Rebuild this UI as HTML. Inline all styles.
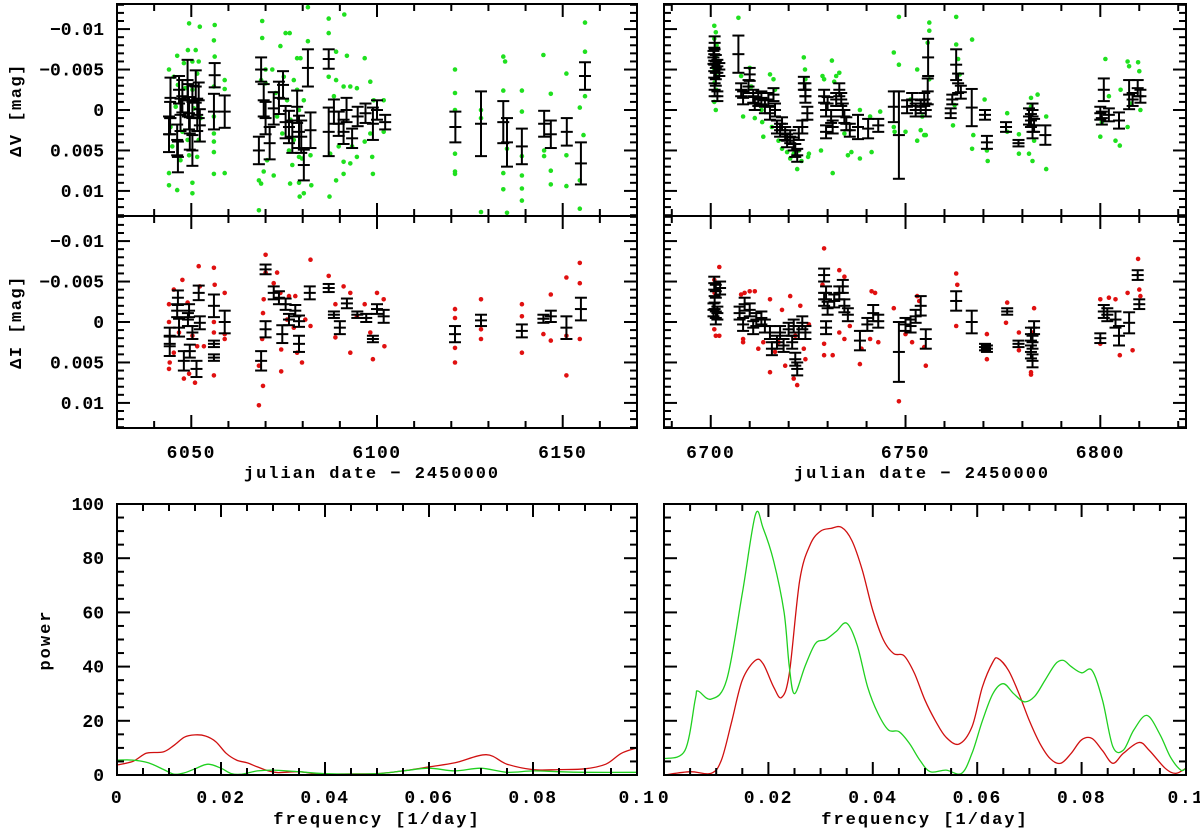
<!DOCTYPE html>
<html><head><meta charset="utf-8"><style>
html,body{margin:0;padding:0;background:#fff}
svg{display:block}
text{font-family:"Liberation Mono",monospace;font-weight:bold;fill:#000}
</style></head><body>
<svg id="chart" width="1200" height="832" viewBox="0 0 1200 832" xmlns="http://www.w3.org/2000/svg"></svg>
<script>
// ---- data (magnitudes in mmag = 0.001 mag) ----
const vBlackLeft = [[6044.4,-1.5,2.5],[6044.3,1,2],[6044,3,2.2],[6046.2,3.7,1.9],[6046.4,5.8,1.9],[6046.7,-2.5,1.7],[6047.6,-1.7,2],[6047.1,0.6,2],[6049,-3.7,2.5],[6049.1,-1.2,2],[6049.4,0.4,2],[6049.6,2.9,2],[6050.3,5,1.9],[6050.3,-1,2],[6051.2,-2.9,2],[6051.6,0.6,2],[6052,-1.2,2.2],[6052.3,1.9,2],[6056.3,-4.3,1.5],[6056.1,0.2,2.2],[6059,0.2,2],
[6068.8,-5,1.5],[6068.2,5,1.7],[6069.5,-1.2,2],[6070,1,2],[6071.1,4.1,2],[6072.2,-0.2,2],[6073.6,-1.5,2],[6074.7,-3.1,1.7],[6075.4,1.5,2],[6076.3,2.1,2],[6077.2,3.3,2],[6078.5,-0.4,2],[6079,2.7,2],[6079.6,3.3,2],[6080.3,6.8,1.9],[6081.4,-5.2,2.3],[6082.1,2.5,2.2],[6087,-6.3,1.2],[6087,2.7,3],[6088.4,0.2,1.5],[6089.7,1.7,1.5],[6091,2.7,1.5],[6091.8,0,1.5],[6093.3,3.5,1.2],[6094.8,0.8,1.2],[6096.9,0.4,1.2],[6098.9,1.7,2],[6100,0,1.2],[6102.2,1.5,0.9],
[6121.1,2.1,1.9],[6128,1.7,4],[6134,1.5,2.6],[6135,4,3],[6139,4.5,2.2],[6145,1.7,1.6],[6146.8,3,1.7],[6151.1,2.7,1.7],[6154.9,6.6,2.6],[6156,-4.2,1.7]];
const vDotsLeft = [[6044,-5],[6044,9.3],[6046.2,9.9],[6046.2,-6.7],[6049.4,-10.7],[6052.3,-10.3],[6049.1,-7.4],[6051.2,-7.4],[6048,-5.8],[6050.3,-6],[6052,-6],[6045.3,-4.1],[6050.3,-2.5],[6044.4,2.1],[6044.9,4.5],[6047.1,6.2],[6049.4,5.6],[6051.6,5.8],[6050.3,9],[6044,7.8],[6050.3,10.3],[6049,3.7],[6052,3.7],[6047.6,2.7],[6045.8,-0.4],[6050.7,-0.2],[6052.5,1],[6046.4,-3.1],[6048.4,-2.7],[6051.6,-4.5],
[6056.3,-10.5],[6056.1,-8.6],[6056.3,-6.6],[6056.1,-2.9],[6056.1,0.8],[6056.1,2.9],[6056.1,3.9],[6056.1,5.2],[6056.1,7.9],[6059,-3.7],[6059,-2.6],[6059,7.8],
[6069.1,-11],[6069.1,-8.9],[6068.8,-3.7],[6068.2,8.7],[6068.8,9.1],[6068.2,12.4],[6070,-5],[6070,-3.3],[6071.8,-5],[6069.5,7.6],[6070.4,6.2],[6072.2,8.1],[6074,-7.9],[6075.4,-9.5],[6076.5,-9.5],[6078.5,-6.4],[6079.4,-6.4],[6081.4,-12.7],[6081.4,-8.5],[6074.9,-4.1],[6077.6,-3.7],[6078.5,-2.5],[6072.7,-2.1],[6075.8,-1.2],[6073.1,0.8],[6076.7,1.2],[6079,0],[6080.3,-1.2],[6074.5,2.9],[6077.6,3.7],[6076.3,5],[6077.2,6.8],[6079,5.8],[6079.8,6],[6082.1,5.6],[6076.6,9.1],[6079,9],[6079.2,10.7],[6080.3,10.3],[6082.3,9.3],
[6087,-11.3],[6087,-9.5],[6087,-4.1],[6087.2,10.7],[6089,-7.2],[6091.2,-11.8],[6091.9,-6.7],[6089,-3.7],[6088.4,-1.7],[6091,-2.9],[6092.8,-2.9],[6094.6,-2.7],[6096.7,-6.4],[6098.2,-3.5],[6099.1,-1.2],[6101.8,-1.2],[6101.8,2.7],[6098.2,2.9],[6094.6,5.8],[6092.8,6.6],[6091,6.4],[6089.7,4.5],[6096.7,3.9],[6098.7,5.8],[6098.9,7.9],[6091,7.9],[6089,8.7],[6087.4,5.4],[6093.3,4.5],
[6121,-5],[6121,-2.1],[6121,0],[6121,5.4],[6121,7.6],[6121,7.9],[6128,12.6],[6128,1],[6128,0],[6134,-6.6],[6134.5,-6],[6134,-2.4],[6135,4.8],[6134,7.8],[6134,9.8],[6135,12.7],[6139,-2.4],[6139,0.2],[6139,5.7],[6139,8.1],[6139,9.7],[6139,11.2],[6144.8,-6.8],[6145,5],[6145,5.7],[6146.8,-2],[6146.8,7.5],[6146.8,9.2],[6151,-4.5],[6151,5.6],[6151,9.4],[6156,-10.8],[6156,-7.2],[6156,-1.7],[6154.6,-0.3],[6155.6,3.1],[6154.6,8.7],[6154.6,12.2]];
const iBlackLeft = [[6044.2,3,1.2],[6044.2,1.7,1],[6046.4,-3,0.9],[6046.2,-1.4,0.8],[6046.7,0.7,1.1],[6048,4.8,1.2],[6049.1,-0.3,0.8],[6049.4,-1.4,0.8],[6049.6,3.6,0.8],[6050.3,1.3,0.8],[6051.4,5.8,1],[6052,-3.6,0.9],[6052.3,0.1,0.8],[6056.1,-2,1.4],[6056.1,2.7,0.4],[6056.1,4.4,0.4],[6059,0,1.4],[6070,-6.5,0.6],[6068.8,4.8,1.2],[6070,0.9,1],[6072.2,-3.6,0.8],[6073.6,-3,0.8],[6074.5,1.5,1.1],[6075.4,-2.2,0.7],[6076.3,-0.3,0.7],[6078,-1.4,0.7],[6079,-0.1,0.7],[6079,2.7,1],[6081.9,-3.6,0.8],[6087,-4.2,0.5],[6088.4,-0.9,0.4],[6090,0.7,0.8],[6091.9,-2.3,0.6],[6094.7,-0.9,0.4],[6097.1,-0.5,0.5],[6098.9,2.1,0.4],[6100,-1.6,0.6],[6101.8,-0.7,0.8],[6121,1.5,1],[6128,-0.2,0.7],[6139,1.1,0.8],[6144.8,-0.4,0.5],[6146.8,-0.7,0.7],[6151,0.7,1.4],[6154.9,-1.6,1.4]];
const iDotsLeft = [[6044,-2.2],[6044,0],[6044.2,5],[6044,5.8],[6045.3,-4],[6047.6,-5.2],[6046.7,1.3],[6045.3,3.8],[6048,7],[6049.4,6.4],[6051,7.5],[6049,-2.4],[6050.3,1.7],[6051.6,3],[6052,-6.9],[6052.3,-4.4],[6053.4,3],[6056.1,-6.7],[6056.3,-4.6],[6056.1,0],[6056.1,1.3],[6056.1,6.6],[6059,-3.6],[6059,2.1],[6059,1.5],
[6070,-8.3],[6070,-6.1],[6069.5,-2.8],[6069.3,-1.1],[6069.1,2.1],[6068.2,5.4],[6068.2,10.3],[6069.3,7.9],[6072.2,-4.8],[6073.1,-6.1],[6074,-3.6],[6074.2,3.4],[6074.2,6.1],[6075.8,-0.3],[6076.3,-3.2],[6077.6,0.7],[6078,-3.2],[6078.5,3.8],[6079.8,5],[6080.7,-0.3],[6082.1,-7.7],[6082.1,0.5],[6087,-5.7],[6088.8,-2.2],[6088.8,1.9],[6091,-4.4],[6092.8,-3.6],[6092.8,3.8],[6094.6,-0.7],[6096.7,-2.2],[6098.2,1.3],[6098.9,4.6],[6100,-3.6],[6101.8,-2.8],[6102,3],
[6121,-1.6],[6121,-0.5],[6121,3.2],[6121,5],[6128,-2.8],[6128,0.9],[6128,2.1],[6139,-2.2],[6139,-0.7],[6139,3.8],[6144.8,1.5],[6146.8,-3.4],[6146.8,2.3],[6151,-5.5],[6151,1.7],[6151,6.6],[6154.6,-7.3],[6154.6,-4.8],[6154.6,2.1]];
const vBlackRight = [[6701,-8.3,0.8],[6700.9,-6.9,0.8],[6701.3,-6,0.8],[6701.7,-5.4,0.8],[6700.9,-4.8,0.8],[6701.3,-3.8,0.8],[6701,-2.5,0.8],[6701.7,-1.7,0.6],[6702.2,-5,0.8],[6700.7,-6.5,0.8],
[6707.1,-6.9,2.3],[6707.8,-2.5,0.8],[6708.3,-1.5,0.8],[6710,-4.4,0.8],[6709.7,-2.9,0.8],[6710.9,-1.7,0.8],[6711.3,-0.8,0.8],[6712.2,-1.3,0.8],[6713,-1.5,0.8],[6713.9,-0.4,0.8],[6714.8,-1.3,0.8],[6715.2,0.4,0.8],[6716.1,-1.9,0.8],[6716.5,0,0.8],[6717,2.1,0.8],[6717.8,2.5,0.8],[6718.3,1.7,0.8],[6719.1,2.9,0.8],[6719.6,3.8,0.8],[6720.4,3.3,0.8],[6721.3,4.2,0.8],[6721.7,5,0.8],[6722.2,5.6,0.8],[6722.6,2.9,0.8],[6723.5,2.1,0.8],[6723.9,-3.3,0.8],[6724.3,-1.7,0.8],[6724.8,0.4,0.8],[6724.3,-2.5,0.8],
[6729.1,-1.7,0.8],[6729.6,0,0.8],[6729.6,2.7,0.8],[6730,-0.8,0.8],[6730.9,0.8,0.8],[6731.3,2.1,0.8],[6732.2,-1.3,0.8],[6733,-2.5,0.8],[6733.5,-1.3,0.8],[6733.9,0,0.8],[6734.3,0.8,0.8],[6734.8,1.7,0.8],[6735.7,2.5,0.8],[6737.8,2.1,1.5],[6740.4,2.3,1.2],[6743,1.9,0.8],[6747,-0.4,1.9],[6748.3,3.1,5.4],[6750.4,-0.4,0.8],[6751.7,-1.3,0.8],[6752.6,0,0.8],[6753.9,-0.4,0.8],[6754.8,-1.3,0.8],[6755.2,0,0.8],[6755.8,-6.5,2.3],[6755.7,-2.3,1.6],
[6761.6,0.4,0.6],[6762,-1.3,0.6],[6763,-5.6,1.9],[6763.5,-3.3,1.2],[6764.2,-2.2,0.8],[6767,-0.3,2.3],[6770.4,0.6,0.6],[6770.9,4,0.8],[6775.8,2.1,0.6],[6779,4.1,0.4],[6781.7,0.8,1],[6782.6,0,0.8],[6782.2,1.3,0.8],[6782.6,2.7,0.8],[6783,1.9,0.8],[6785.9,3.1,1.2],
[6800,0.4,0.8],[6800.9,-2.5,1.4],[6800.4,1,0.8],[6802.2,0.6,0.8],[6804.8,1.3,1],[6807.4,-1.9,1.8],[6808.3,-1.3,0.8],[6809.6,-2.7,1],[6810.3,-1.7,0.8]];
const vDotsRight = [[6700.9,-10.4],[6701.3,-9.6],[6700.9,-8.8],[6701.5,-8],[6700.8,-7.4],[6701.3,-6.6],[6701.6,-5.8],[6700.9,-5],[6701.4,-4.2],[6701,-3.4],[6701.4,-2.5],[6700.9,-1],[6701.3,0],
[6707.1,-11.4],[6707.8,-4.2],[6708.3,0.8],[6710,-5.2],[6710.4,-2.9],[6711.3,1],[6713,0],[6713.2,1.5],[6713.5,3.3],[6715.2,-4.4],[6716.1,-3.8],[6716.5,-2.5],[6715.7,2.1],[6717.4,3.8],[6718.3,4.8],[6719.6,5.2],[6720.4,6],[6721.3,5.4],[6722.2,7.3],[6722.6,5],[6723.3,6.3],[6723.9,-6.5],[6724.2,-5],[6724.3,-3.8],[6725.2,5.4],[6725,5.8],
[6728.3,5],[6728.7,-4.2],[6729.1,-3.8],[6731.1,-6.1],[6731.7,-3.5],[6732.2,-4.2],[6733,-4.6],[6731.3,7.8],[6734.3,2.9],[6735.2,5.6],[6736.1,5.2],[6738.3,0],[6738.3,6],[6740.9,0.8],[6741.3,5.2],[6743.5,0.2],
[6747,-7.1],[6748.3,-5.6],[6747,2.1],[6747.2,2.7],[6748.3,-11.5],[6750,2.7],[6751.3,-1.3],[6753,-5],[6753,3.8],[6753.9,2.5],[6754.3,0.8],[6754.8,3.1],[6756.1,-10.8],[6756.1,-9.8],[6755.7,-8.3],[6756.1,-3.8],[6755.2,3.1],
[6763,-11.5],[6763,-8.1],[6763.5,-6.3],[6763.9,-4.4],[6762.2,1.9],[6762.6,-0.6],[6767.1,-8.7],[6767.4,3.1],[6767.1,4.8],[6770.3,-1.3],[6770.9,5],[6771.1,6.3],[6776.1,0.4],[6776.1,2.7],[6779.1,3],[6779.1,5.4],[6782.2,-1.5],[6782.2,-0.4],[6783.9,-1.9],[6781.7,5.4],[6782.6,6.3],[6783,3.8],[6786.1,0.8],[6786.1,7.3],
[6801.3,-6.3],[6800,3.3],[6800.4,1.5],[6802.2,-1.7],[6803.9,3.8],[6805,4.4],[6805.2,-2.5],[6807,-6],[6807.4,-5.4],[6807.8,-0.8],[6807,2.1],[6809.7,-5.9],[6810,-4.8],[6810.3,0]];
const iBlackRight = [[6700.9,-4.8,0.8],[6701.3,-3.8,0.8],[6701,-2.4,0.8],[6700.7,-1.5,0.8],[6701.3,-0.5,0.8],[6701.7,-1.1,0.8],[6702.4,-4.2,0.8],[6707.4,-1.1,0.8],[6708.3,0.3,0.8],[6708.7,-2.2,0.8],[6710,-1.5,0.8],[6710.9,0.7,0.8],[6711.7,-0.3,0.8],[6713,-0.5,0.8],[6713.9,0.5,0.8],[6715.2,1.3,0.8],[6715.7,3.3,0.8],[6717,2.5,0.8],[6717.8,1.3,0.8],[6718.7,2.9,0.8],[6720,0.9,0.8],[6720.9,2.5,0.8],[6721.3,0.5,0.8],[6721.7,4.6,0.8],[6722.2,5.8,0.8],[6722.6,1.3,0.8],[6723.5,0.1,0.8],[6724.3,1.3,0.8],
[6729.1,-5.8,0.8],[6729.6,-3.6,0.8],[6729.1,-2.8,0.8],[6730,-1.7,0.8],[6729.6,0.7,0.8],[6731.7,-2.6,0.8],[6733,-3.6,0.8],[6733.9,-4.4,0.8],[6734.3,-2,0.8],[6735.2,-0.9,0.8],[6738.3,2.3,1.2],[6740.2,0.3,0.8],[6741.7,-1.1,1],[6743,-0.1,0.8],[6748.3,3.7,3.7],[6750,0.3,0.8],[6751.3,0.5,0.8],[6752.6,-0.7,0.8],[6753.9,-2,1.2],[6755.2,2.1,1.2],
[6763,-2.6,1.2],[6767,0,1.4],[6770.4,3.1,0.4],[6770.9,3.3,0.4],[6776.1,-1.3,0.4],[6779,2.7,0.4],[6782.2,1.5,0.8],[6782.6,2.5,0.8],[6782.2,3.7,0.8],[6782.6,4.8,0.8],[6783,0.7,0.8],[6800,2,0.6],[6800.9,-1.3,0.8],[6801.8,-0.9,0.8],[6803.9,-0.3,1],[6804.8,1.7,1.2],[6807.4,0.1,1.3],[6809.6,-5.8,0.6],[6810,-2.2,0.6]];
const iDotsRight = [[6700.9,-5.2],[6701,-3.6],[6700.9,0.9],[6701.3,1.7],[6702.2,-6.8],[6702.2,1.7],[6707.8,-3.4],[6708.3,2.1],[6708.3,2.5],[6708.7,-3.6],[6710,-3.8],[6711.3,-3.8],[6712.2,3.3],[6713.5,2.5],[6715.2,-2.8],[6715.2,6.2],[6716.5,3.7],[6717.4,2.5],[6718.3,-1.5],[6719.1,5.4],[6720.4,-3.2],[6721.3,7],[6722.2,7.8],[6721.7,1.7],[6723,-2],[6723.9,3.3],[6724.3,4.6],[6725.2,0.3],
[6729.1,-9.1],[6728.7,-4.6],[6729.1,2.7],[6729.1,4.1],[6731.3,4.1],[6733,-6.4],[6734.3,-5.6],[6733,1.3],[6734.3,2.1],[6735.7,0.5],[6738.3,5.2],[6738.7,3.3],[6741.3,-3.8],[6742.2,-3.6],[6740.9,2.1],[6743,2.5],
[6747,-1.7],[6748.3,9.8],[6750,1.5],[6751.7,2.5],[6753,-3.2],[6753.5,-2.6],[6755.2,5.4],[6754.8,3.1],[6763,-6],[6763.3,-4.6],[6763,0.5],[6770.9,1.5],[6770.9,4.6],[6776.1,-2.4],[6775.8,0.1],[6779.1,1.3],[6779.1,3.5],[6783,-1.7],[6782.6,1.3],[6782.2,6.2],[6782.2,6.5],
[6800,-2.8],[6800,2.7],[6802.2,-3],[6803.9,-2.8],[6805,4.1],[6807,-3.6],[6808.3,3.5],[6809.7,-7.8],[6810,-4],[6810.3,-3.2]];
// periodograms
const freqLeftRed = [0,0.003,0.005,0.006,0.009,0.011,0.013,0.015,0.017,0.019,0.021,0.023,0.025,0.027,0.029,0.031,0.035,0.039,0.045,0.05,0.055,0.06,0.065,0.071,0.075,0.08,0.085,0.09,0.094,0.097,0.1];
const powLeftRed  = [3.7,5,7.4,8.2,8.6,11,14,14.8,14.4,12.3,8,5.5,4.5,3,1.6,0.9,1.2,0.3,0.4,0.5,1.5,3,4.5,7.5,4,2,2,2.3,4,8,10];
const freqLeftGreen = [0,0.003,0.006,0.009,0.011,0.013,0.015,0.0175,0.02,0.022,0.024,0.027,0.03,0.035,0.04,0.05,0.055,0.06,0.065,0.07,0.075,0.08,0.085,0.09,0.1];
const powLeftGreen  = [5.5,5.5,4.5,2,0.3,0.8,2.3,4,2.5,0.5,0.3,1.5,1.8,1.2,0.5,0.5,1.5,2.5,1.5,2.5,1,1.5,1.2,1,1];
const freqRightGreen = [0,0.004,0.006,0.0065,0.009,0.012,0.015,0.0175,0.019,0.021,0.023,0.024,0.025,0.027,0.029,0.031,0.033,0.035,0.037,0.039,0.041,0.043,0.045,0.047,0.049,0.051,0.054,0.057,0.059,0.061,0.063,0.065,0.067,0.069,0.071,0.073,0.075,0.0765,0.078,0.08,0.082,0.084,0.086,0.088,0.09,0.0925,0.095,0.097,0.099,0.1];
const powRightGreen  = [6,9,28,31,28,35,67,96,91,79,60,40,30,40,48.5,50,53,56,48,32.5,22.7,16.6,16,11.7,5.5,1.2,1.8,0.6,8,20,30,33.7,30,27,29,35,41,42.3,40,37.7,38.6,27.6,10.4,9.2,16.6,22,15,6.7,1.8,2.5];
const freqRightRed = [0,0.005,0.009,0.011,0.013,0.015,0.0175,0.019,0.021,0.0225,0.024,0.026,0.028,0.03,0.032,0.034,0.036,0.038,0.04,0.042,0.044,0.046,0.048,0.05,0.052,0.054,0.0565,0.059,0.061,0.063,0.064,0.066,0.068,0.07,0.072,0.074,0.076,0.078,0.08,0.082,0.084,0.086,0.088,0.091,0.093,0.096,0.098,0.1];
const powRightRed  = [0,1.2,0.6,5.5,20,35,42.3,41,32.5,28.6,37.4,71.8,85,90,91,91.4,86.5,75.5,60.7,50,44.8,44,37.4,27.6,20,14,11.4,17.8,32.5,41.7,43,38.6,30,20,11.7,6,4.3,8,13,13.5,9,4.3,8,12,9,2.5,0.6,2.5];
const magTicks = [-10,-5,0,5,10];
const magTickLabels = ["\u22120.01","\u22120.005","0","0.005","0.01"];
const dateTicksLeft = [6050,6100,6150];
const dateTicksRight = [6700,6750,6800];
const powTicks = [0,20,40,60,80,100];
const freqTicks = [0,0.02,0.04,0.06,0.08,0.1];
const freqTickLabels = ["0","0.02","0.04","0.06","0.08","0.1"];

const NS="http://www.w3.org/2000/svg";
const svg=document.getElementById('chart');
function mk(tag,attrs,parent){const e=document.createElementNS(NS,tag);for(const k in attrs)e.setAttribute(k,attrs[k]);(parent||svg).appendChild(e);return e;}
function lin(d0,d1,r0,r1){return v=>r0+(v-d0)*(r1-r0)/(d1-d0);}

const GREEN="#1fe01f", RED="#e01010";
function panel(name,x0,x1,y0,y1,xd,yd){
  const g=mk('g',{});
  
  
  return {g,x0,x1,y0,y1,sx:lin(xd[0],xd[1],x0,x1),sy:lin(yd[0],yd[1],y1,y0),xd,yd};
}
function frame(p,xMinor,xMajor,yMinor,yMajor){
  const ax=mk('g',{stroke:'#000','stroke-width':2,fill:'none'},p.g);
  
  
  mk('rect',{x:p.x0,y:p.y0,width:p.x1-p.x0,height:p.y1-p.y0},ax);
  const eps=1e-9;
  for(let v=Math.ceil(p.xd[0]/xMinor-eps)*xMinor; v<=p.xd[1]+eps; v+=xMinor){
    const major=Math.abs(v/xMajor-Math.round(v/xMajor))<1e-6; const L=major?13:7; const x=p.sx(v);
    mk('line',{x1:x,x2:x,y1:p.y1,y2:p.y1-L},ax); mk('line',{x1:x,x2:x,y1:p.y0,y2:p.y0+L},ax);
  }
  const ylo=Math.min(p.yd[0],p.yd[1]), yhi=Math.max(p.yd[0],p.yd[1]);
  for(let v=Math.ceil(ylo/yMinor-eps)*yMinor; v<=yhi+eps; v+=yMinor){
    const major=Math.abs(v/yMajor-Math.round(v/yMajor))<1e-6; const L=major?13:7; const y=p.sy(v);
    mk('line',{x1:p.x0,x2:p.x0+L,y1:y,y2:y},ax); mk('line',{x1:p.x1,x2:p.x1-L,y1:y,y2:y},ax);
  }
}
function dots(p,data,color,name){
  const g=mk('g',{fill:color},p.g);
  
  
  data.forEach(d=>{mk('circle',{cx:p.sx(d[0]).toFixed(1),cy:p.sy(d[1]).toFixed(1),r:2.3},g);});
}
function errbars(p,data,name){
  const g=mk('g',{stroke:'#000','stroke-width':2},p.g);
  
  
  data.forEach(d=>{
    const x=p.sx(d[0]), y=p.sy(d[1]), ya=p.sy(d[1]-d[2]), yb=p.sy(d[1]+d[2]), w=6;
    mk('line',{x1:x,x2:x,y1:ya,y2:yb},g);
    mk('line',{x1:x-w,x2:x+w,y1:ya,y2:ya},g);
    mk('line',{x1:x-w,x2:x+w,y1:yb,y2:yb},g);
    mk('line',{x1:x-w,x2:x+w,y1:y,y2:y},g);
  });
}
function curve(p,xs,ys,color,name){
  const pts=xs.map((x,i)=>[p.sx(x),p.sy(ys[i])]);
  let d='M'+pts[0][0].toFixed(1)+','+pts[0][1].toFixed(1);
  for(let i=0;i<pts.length-1;i++){
    const p0=pts[Math.max(0,i-1)],p1=pts[i],p2=pts[i+1],p3=pts[Math.min(pts.length-1,i+2)];
    const c1=[p1[0]+(p2[0]-p0[0])/6,p1[1]+(p2[1]-p0[1])/6],c2=[p2[0]-(p3[0]-p1[0])/6,p2[1]-(p3[1]-p1[1])/6];
    d+=' C'+c1[0].toFixed(1)+','+c1[1].toFixed(1)+' '+c2[0].toFixed(1)+','+c2[1].toFixed(1)+' '+p2[0].toFixed(1)+','+p2[1].toFixed(1);
  }
  const e=mk('path',{d,fill:'none',stroke:color,'stroke-width':1.3},p.g);
  
  
}
function txt(s,x,y,anchor,name,rot,size,ls){
  const a={x,y,'text-anchor':anchor,'font-size':size||17};
  if(ls)a['letter-spacing']=ls;
  if(rot)a.transform='rotate(-90 '+x+' '+y+')';
  const t=mk('text',a); t.textContent=s;
  
  
  return t;
}

const pVL=panel('delta-v-panel-left',117,637,4,216,[6030,6170],[13.1,-13.1]);
const pIL=panel('delta-i-panel-left',117,637,216,428,[6030,6170],[13.1,-13.1]);
const pVR=panel('delta-v-panel-right',664,1186,4,216,[6688,6822],[13.1,-13.1]);
const pIR=panel('delta-i-panel-right',664,1186,216,428,[6688,6822],[13.1,-13.1]);
const pPL=panel('periodogram-left',117,637,504,775,[0,0.1],[0,100]);
const pPR=panel('periodogram-right',664,1186,504,775,[0,0.1],[0,100]);
[pVL,pIL,pVR,pIR].forEach(p=>{p.sy=lin(-13.1,13.1,p.y0,p.y1); p.yd=[-13.1,13.1];});

dots(pVL,vDotsLeft,GREEN,'v-band-points-left');
errbars(pVL,vBlackLeft,'v-binned-errorbars-left');
dots(pIL,iDotsLeft,RED,'i-band-points-left');
errbars(pIL,iBlackLeft,'i-binned-errorbars-left');
dots(pVR,vDotsRight,GREEN,'v-band-points-right');
errbars(pVR,vBlackRight,'v-binned-errorbars-right');
dots(pIR,iDotsRight,RED,'i-band-points-right');
errbars(pIR,iBlackRight,'i-binned-errorbars-right');
curve(pPL,freqLeftRed,powLeftRed,'#d01010','power-i-line-left');
curve(pPL,freqLeftGreen,powLeftGreen,'#20d020','power-v-line-left');
curve(pPR,freqRightRed,powRightRed,'#d01010','power-i-line-right');
curve(pPR,freqRightGreen,powRightGreen,'#20d020','power-v-line-right');

[pVL,pIL,pVR,pIR].forEach(p=>frame(p,10,50,1,5));
[pPL,pPR].forEach(p=>frame(p,0.005,0.02,5,20));

[pVL,pIL].forEach(p=>magTicks.forEach((v,i)=>txt(magTickLabels[i],104,p.sy(v)+6,'end','y-tick-label',0,18)));
dateTicksLeft.forEach(v=>txt(String(v),pIL.sx(v),458,'middle','x-tick-label',0,18,1.5));
dateTicksRight.forEach(v=>txt(String(v),pIR.sx(v),458,'middle','x-tick-label',0,18,1.5));
powTicks.forEach(v=>txt(String(v),104,pPL.sy(v)+6,'end','y-tick-label',0,18));
[pPL,pPR].forEach(p=>freqTicks.forEach((v,i)=>txt(freqTickLabels[i],p.sx(v),803,'middle','x-tick-label',0,18,1.5)));
txt('julian date \u2212 2450000',372,478,'middle','x-axis-title-left',0,17,2);
txt('julian date \u2212 2450000',922,478,'middle','x-axis-title-right',0,17,2);
txt('frequency [1/day]',377,824,'middle','x-axis-title-left-freq',0,17,2);
txt('frequency [1/day]',925,824,'middle','x-axis-title-right-freq',0,17,2);
txt('\u0394V [mag]',21,110,'middle','y-axis-title-dv',1,17,1.5);
txt('\u0394I [mag]',21,322,'middle','y-axis-title-di',1,17,1.5);
txt('power',50,640,'middle','y-axis-title-power',1,17,2);
</script>
</body></html>
